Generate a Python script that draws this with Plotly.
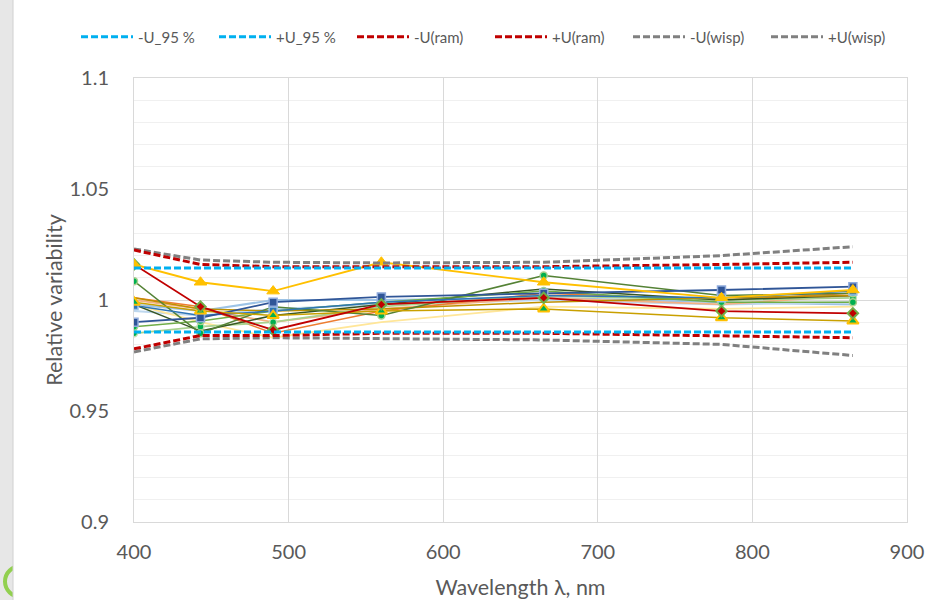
import plotly.graph_objects as go

wavelengths = [400, 443, 490, 560, 665, 780, 865]

# uncertainty envelopes
u95_minus = [0.9856, 0.9856, 0.9856, 0.9856, 0.9856, 0.9856, 0.9856]
u95_plus = [1.0144, 1.0144, 1.0144, 1.0144, 1.0144, 1.0144, 1.0144]
uram_minus = [0.978, 0.984, 0.984, 0.985, 0.985, 0.984, 0.983]
uram_plus = [1.0225, 1.016, 1.015, 1.015, 1.015, 1.016, 1.017]
uwisp_minus = [0.9766, 0.9825, 0.983, 0.9825, 0.982, 0.980, 0.975]
uwisp_plus = [1.023, 1.018, 1.017, 1.0167, 1.017, 1.020, 1.024]

# individual relative-variability series
s_lightblue = [0.998, 0.995, 1.000, 1.000, 1.001, 0.999, 0.998]
s_paleblue = [0.995, 0.993, 0.996, 0.998, 1.000, 0.998, 0.999]
s_lightyellow = [0.998, 0.990, 0.983, 0.990, 0.997, 0.996, 0.997]
s_lightorange = [1.000, 0.996, 0.990, 0.996, 1.001, 0.998, 1.002]
s_orange = [1.001, 0.997, 0.985, 0.995, 1.003, 1.000, 1.003]
s_lightgreen = [0.985, 0.988, 0.990, 0.997, 1.002, 1.000, 1.001]
s_darkgreen2 = [0.998, 0.986, 0.993, 0.998, 1.005, 1.000, 1.002]
s_gold = [1.001, 0.996, 0.995, 0.996, 0.999, 1.001, 1.002]
s_green = [0.988, 0.9905, 0.995, 0.999, 1.004, 0.999, 0.999]
s_darkgreen = [1.0085, 0.985, 0.997, 0.993, 1.011, 1.002, 1.003]
s_blue2 = [0.9975, 0.993, 0.995, 0.999, 1.002, 1.001, 1.004]
s_darkblue = [0.990, 0.992, 0.999, 1.0014, 1.003, 1.0045, 1.006]
s_tri_green = [0.999, 0.995, 0.993, 0.995, 0.996, 0.992, 0.9905]
s_red = [1.016, 0.997, 0.9865, 0.998, 1.001, 0.995, 0.994]
s_yellow = [1.016, 1.008, 1.004, 1.017, 1.008, 1.001, 1.0045]

y_ticks = [0.9, 0.95, 1.0, 1.05, 1.1]
y_tick_text = ["0.9", "0.95", "1", "1.05", "1.1"]
x_ticks = [400, 500, 600, 700, 800, 900]

FONT = "Lato, Liberation Sans, sans-serif"
TXT = "#595959"

fig = go.Figure()

def line(y, color, width=1.5, marker=None):
    kw = dict(x=wavelengths, y=y, showlegend=False, hoverinfo="skip",
              line=dict(color=color, width=width))
    if marker:
        kw["mode"] = "lines+markers"
        kw["marker"] = marker
    else:
        kw["mode"] = "lines"
    fig.add_trace(go.Scatter(**kw))

# plain lines
line(s_lightblue, "#9DC3E6", 2)
line(s_paleblue, "#BDD7EE", 2)
line(s_lightyellow, "#FFE699", 1.8)
line(s_lightorange, "#F4B183", 1.8)
line(s_orange, "#ED7D31", 1.5)
line(s_lightgreen, "#A9D18E", 1.8,
     dict(symbol="circle", size=7, color="#00B050", line=dict(color="#C5E0B4", width=1.5)))
line(s_darkgreen2, "#375623", 1.5)
line(s_gold, "#BF9000", 1.5)
line(s_green, "#70AD47", 1.5,
     dict(symbol="circle", size=7, color="#00B050", line=dict(color="#A9D18E", width=1.5)))
line(s_darkgreen, "#548235", 1.5,
     dict(symbol="circle", size=7, color="#00B050", line=dict(color="#A9D18E", width=1.5)))
line(s_blue2, "#2E75B6", 1.5,
     dict(symbol="square", size=8, color="#2E75B6", line=dict(color="#9DC3E6", width=1.5)))
line(s_darkblue, "#2F5597", 1.8,
     dict(symbol="square", size=8, color="#2F5597", line=dict(color="#8FAADC", width=1.5)))
line(s_tri_green, "#C9A000", 1.5,
     dict(symbol="triangle-up", size=10, color="#00B050", line=dict(color="#FFC000", width=2)))
line(s_red, "#C00000", 1.8,
     dict(symbol="diamond", size=8, color="#C00000", line=dict(color="#70AD47", width=2)))
line(s_yellow, "#FFC000", 1.8,
     dict(symbol="triangle-up", size=11, color="#FFC000", line=dict(color="#FFC000", width=1)))

# envelopes (legend)
def dashed(y, color, name, rank):
    fig.add_trace(go.Scatter(x=wavelengths, y=y, mode="lines", name=name, legendrank=rank,
                             line=dict(color=color, width=3, dash="7px,3px"),
                             hoverinfo="skip"))

dashed(uwisp_minus, "#808080", "-U(wisp)", 5)
dashed(uwisp_plus, "#808080", "+U(wisp)", 6)
dashed(uram_minus, "#C00000", "-U(ram)", 3)
dashed(uram_plus, "#C00000", "+U(ram)", 4)
dashed(u95_minus, "#00B0F0", "-U_95 %", 1)
dashed(u95_plus, "#00B0F0", "+U_95 %", 2)

W, H = 773, 444
fig.update_layout(
    width=935, height=600,
    margin=dict(l=134, r=28, t=78, b=78),
    paper_bgcolor="white", plot_bgcolor="white",
    font=dict(family=FONT, color=TXT, size=15),
    legend=dict(orientation="h", x=(76 - 134) / W, xanchor="left",
                y=1 + (78 - 37) / H, yanchor="middle",
                font=dict(size=15, color=TXT), itemwidth=52,
                entrywidth=71, traceorder="normal", bgcolor="rgba(0,0,0,0)"),
    xaxis=dict(range=[400, 900], tickvals=x_ticks, showgrid=True, gridcolor="#D9D9D9",
               gridwidth=1, showline=True, linecolor="#D9D9D9", mirror=True,
               zeroline=False, ticks="", tickfont=dict(size=20, color=TXT),
               ticklabelstandoff=12, automargin=False,
               title=dict(text="Wavelength λ, nm", font=dict(size=21.5, color=TXT), standoff=18)),
    yaxis=dict(range=[0.9, 1.1], tickvals=y_ticks, ticktext=y_tick_text, showgrid=True,
               gridcolor="#D9D9D9", gridwidth=1, showline=True, linecolor="#D9D9D9",
               mirror=True, zeroline=False, ticks="", tickfont=dict(size=20, color=TXT),
               ticklabelstandoff=20, automargin=False,
               minor=dict(dtick=0.01, showgrid=True, gridcolor="#F0F0F0", gridwidth=1),
               title=dict(text="Relative variability", font=dict(size=21.5, color=TXT), standoff=0)),
    shapes=[
        dict(type="rect", xref="paper", yref="paper", x0=-134 / W, x1=-121 / W, y0=-78 / H,
             y1=1 + 78 / H, fillcolor="#E7E7E7", line=dict(width=0), layer="below"),
        dict(type="circle", xref="paper", yref="paper", x0=(5 - 134) / W, x1=(37 - 134) / W,
             y0=(522 - 597) / H, y1=(522 - 566) / H, line=dict(color="#92D050", width=4),
             layer="below"),
        dict(type="rect", xref="paper", yref="paper", x0=(13 - 134) / W, x1=(80 - 134) / W,
             y0=-78 / H, y1=(522 - 550) / H, fillcolor="white", line=dict(width=0),
             layer="below"),
        dict(type="line", xref="paper", yref="paper", x0=-121 / W, x1=-121 / W, y0=-78 / H,
             y1=1 + 78 / H, line=dict(color="#D0D0D0", width=1), layer="below"),
    ],
)

fig.write_html("out.html")
